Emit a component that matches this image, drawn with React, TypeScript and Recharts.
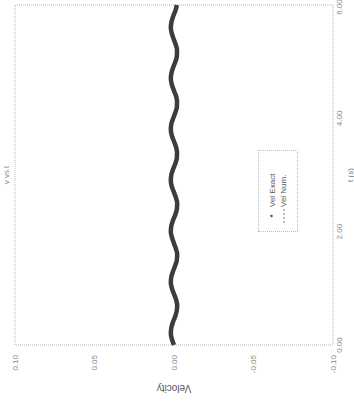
import React from "react";
import {
  Legend,
  Line,
  LineChart,
  ReferenceArea,
  XAxis,
  YAxis,
} from "recharts";

// time samples (s)
const time = [
  0, 0.1, 0.2, 0.3, 0.4, 0.5, 0.6, 0.7, 0.8, 0.9, 1.0, 1.1, 1.2, 1.3, 1.4,
  1.5, 1.6, 1.7, 1.8, 1.9, 2.0, 2.1, 2.2, 2.3, 2.4, 2.5, 2.6, 2.7, 2.8, 2.9,
  3.0, 3.1, 3.2, 3.3, 3.4, 3.5, 3.6, 3.7, 3.8, 3.9, 4.0, 4.1, 4.2, 4.3, 4.4,
  4.5, 4.6, 4.7, 4.8, 4.9, 5.0, 5.1, 5.2, 5.3, 5.4, 5.5, 5.6, 5.7, 5.8, 5.9,
  6.0,
];

const velExact = [
  0, 0.0013, 0.002, 0.0017, 0.0007, -0.0007, -0.0017, -0.002, -0.0013, 0.0,
  0.0013, 0.002, 0.0017, 0.0006, -0.0007, -0.0018, -0.002, -0.0012, 0.0001,
  0.0013, 0.002, 0.0017, 0.0006, -0.0008, -0.0018, -0.002, -0.0012, 0.0001,
  0.0014, 0.002, 0.0017, 0.0006, -0.0008, -0.0018, -0.0019, -0.0012, 0.0001,
  0.0014, 0.002, 0.0017, 0.0005, -0.0008, -0.0018, -0.0019, -0.0012, 0.0002,
  0.0014, 0.002, 0.0016, 0.0005, -0.0009, -0.0018, -0.0019, -0.0011, 0.0002,
  0.0014, 0.002, 0.0016, 0.0005, -0.0009, -0.0018,
];

const velNum = [
  0, 0.0013, 0.002, 0.0017, 0.0007, -0.0007, -0.0017, -0.002, -0.0013, 0.0,
  0.0013, 0.002, 0.0017, 0.0006, -0.0007, -0.0018, -0.002, -0.0012, 0.0001,
  0.0013, 0.002, 0.0017, 0.0006, -0.0008, -0.0018, -0.002, -0.0012, 0.0001,
  0.0014, 0.002, 0.0017, 0.0006, -0.0008, -0.0018, -0.0019, -0.0012, 0.0001,
  0.0014, 0.002, 0.0017, 0.0005, -0.0008, -0.0018, -0.0019, -0.0012, 0.0002,
  0.0014, 0.002, 0.0016, 0.0005, -0.0009, -0.0018, -0.0019, -0.0011, 0.0002,
  0.0014, 0.002, 0.0016, 0.0005, -0.0009, -0.0018,
];

const timeTicks = [0, 2, 4, 6];
const velTicks = [-0.1, -0.05, 0, 0.05, 0.1];

const data = time.map((t, i) => ({ t, exact: velExact[i], num: velNum[i] }));

const FONT = "'Liberation Sans', Arial, sans-serif";
const TEXT = "#8a8a8a";

const VelocityLabel = () => (
  <text
    x={17}
    y={174}
    transform="rotate(-90 17 174)"
    textAnchor="middle"
    dominantBaseline="middle"
    fontFamily={FONT}
    fontSize={10}
    fill="#555"
  >
    Velocity
  </text>
);

const LegendBox = () => (
  <div
    style={{
      border: "1px dotted #bbb",
      background: "#fff",
      padding: "8px 6px",
      fontFamily: FONT,
      fontSize: 8,
      color: "#555",
      lineHeight: "11px",
      width: 68,
    }}
  >
    <div style={{ display: "flex", alignItems: "center" }}>
      <span style={{ width: 18, textAlign: "center", color: "#333", fontWeight: 700 }}>*</span>
      <span>Vel Exact</span>
    </div>
    <div style={{ display: "flex", alignItems: "center" }}>
      <span style={{ width: 18, display: "flex", justifyContent: "center" }}>
        <span style={{ width: 14, borderTop: "2px dotted #bbb" }} />
      </span>
      <span>Vel Num.</span>
    </div>
  </div>
);

export default function App() {
  return (
    <div
      style={{
        position: "fixed",
        left: 0,
        top: 0,
        width: 354,
        height: 405,
        overflow: "hidden",
        background: "#fff",
      }}
    >
      {/* the figure is laid out landscape, then turned a quarter turn */}
      <div
        style={{
          position: "absolute",
          left: 0,
          top: 0,
          width: 405,
          height: 354,
          transformOrigin: "0 0",
          transform: "translateY(405px) rotate(-90deg)",
        }}
      >
        <div
          style={{
            position: "absolute",
            left: 0,
            width: 405,
            top: 2,
            textAlign: "center",
            paddingLeft: 55,
            boxSizing: "border-box",
            fontFamily: FONT,
            fontSize: 8,
            color: TEXT,
          }}
        >
          v vs t
        </div>
        <LineChart
          width={405}
          height={354}
          data={data}
          margin={{ top: 15, right: 5, bottom: 0, left: 0 }}
        >
          <ReferenceArea
            x1={0}
            x2={6}
            y1={-0.1}
            y2={0.1}
            fill="none"
            stroke="#b5b5b5"
            strokeDasharray="1 1"
          />
          <XAxis
            dataKey="t"
            type="number"
            domain={[0, 6]}
            ticks={timeTicks}
            tickFormatter={(v: number) => v.toFixed(2)}
            axisLine={false}
            tickLine={false}
            tickSize={0}
            tickMargin={3}
            height={21}
            tick={{ fontSize: 8, fill: TEXT, fontFamily: FONT }}
            label={{
              value: "t (s)",
              position: "insideBottom",
              offset: 1,
              fontSize: 8,
              fill: "#777",
              fontFamily: FONT,
            }}
          />
          <YAxis
            type="number"
            domain={[-0.1, 0.1]}
            ticks={velTicks}
            tickFormatter={(v: number) => v.toFixed(2)}
            axisLine={false}
            tickLine={false}
            tickSize={0}
            tickMargin={10}
            width={60}
            tick={{ fontSize: 8, fill: TEXT, fontFamily: FONT }}
            label={<VelocityLabel />}
          />
          <Legend
            layout="vertical"
            align="center"
            verticalAlign="middle"
            content={() => <LegendBox />}
            wrapperStyle={{ left: 173, top: 258, width: 82, bottom: "auto", right: "auto" }}
          />
          <Line
            dataKey="num"
            name="Vel Num."
            type="monotone"
            stroke="#c8c8c8"
            strokeWidth={1}
            dot={false}
            isAnimationActive={false}
          />
          <Line
            dataKey="exact"
            name="Vel Exact"
            type="monotone"
            stroke="#3c3c3c"
            strokeWidth={4.5}
            dot={false}
            isAnimationActive={false}
          />
        </LineChart>
      </div>
    </div>
  );
}
